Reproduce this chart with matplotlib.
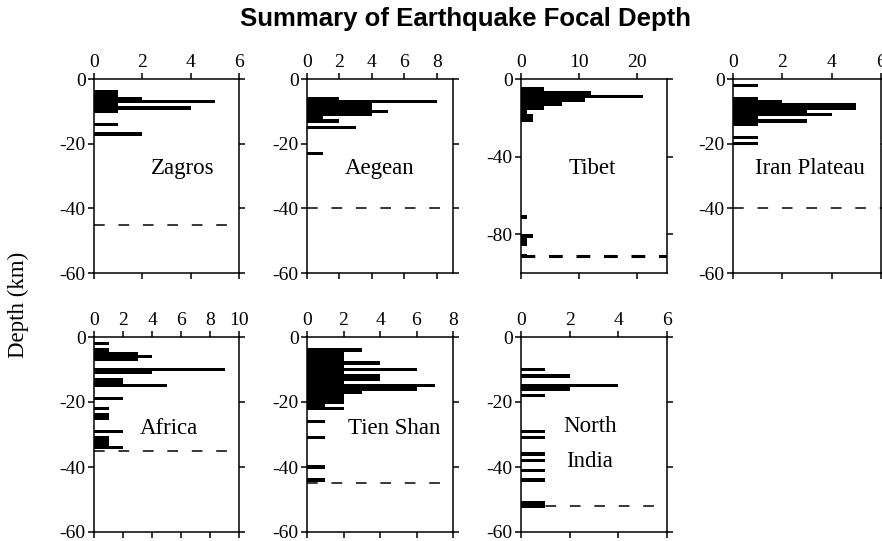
import matplotlib
matplotlib.use('Agg')
import matplotlib.pyplot as plt

plt.rcParams['font.family'] = ['Liberation Serif', 'DejaVu Serif']
plt.rcParams['axes.unicode_minus'] = False

# Focal depth histograms: depth bin centre (km) and number of events
zagros_depth = [4, 5, 6, 7, 8, 9, 10, 14, 17]
zagros_count = [1, 1, 2, 5, 1, 4, 1, 1, 2]

aegean_depth = [6, 7, 8, 9, 10, 11, 12, 13, 15, 23]
aegean_count = [2, 8, 4, 4, 5, 4, 1, 2, 3, 1]

# Tibet uses 2 km bins
tibet_depth = [5, 7, 9, 11, 13, 15, 17, 19, 21, 71, 81, 83, 85, 91]
tibet_count = [4, 12, 21, 11, 7, 4, 1, 2, 2, 1, 2, 1, 1, 1]

iran_depth = [2, 6, 7, 8, 9, 10, 11, 12, 13, 14, 18, 20]
iran_count = [1, 1, 2, 5, 5, 3, 4, 1, 3, 1, 1, 1]

africa_depth = [2, 4, 5, 6, 7, 10, 11, 13, 14, 15, 19, 22, 24, 25, 29, 31, 32, 33, 34]
africa_count = [1, 1, 3, 4, 3, 9, 4, 2, 2, 5, 2, 1, 1, 1, 2, 1, 1, 1, 2]

tienshan_depth = [4, 5, 6, 7, 8, 9, 10, 11, 12, 13, 14, 15, 16, 17, 18, 19, 20, 21, 22,
                  26, 31, 40, 44]
tienshan_count = [3, 2, 2, 2, 4, 2, 6, 2, 4, 4, 2, 7, 6, 3, 2, 2, 2, 1, 2,
                  1, 1, 1, 1]

nindia_depth = [10, 12, 15, 16, 18, 29, 31, 36, 38, 41, 44, 51, 52]
nindia_count = [1, 2, 4, 2, 1, 1, 1, 1, 1, 1, 1, 1, 1]

# Moho / reference depth (dashed lines)
moho = {'Zagros': -45, 'Aegean': -40, 'Tibet': -91, 'Iran Plateau': -40,
        'Africa': -35, 'Tien Shan': -45, 'North|India': -52}

W, H = 882, 541
fig = plt.figure(figsize=(W / 100, H / 100), dpi=100)


def make_axes(x0, x1, ytop, ybot):
    return fig.add_axes([x0 / W, 1 - ybot / H, (x1 - x0) / W, (ybot - ytop) / H])


def panel(ax, depth, count, binh, xmax, xticks, ymin, yticks, name, lx, ly, dash_lw=1.1):
    ax.barh([-d for d in depth], count, height=binh, color='black', linewidth=0)
    ax.set_xlim(0, xmax)
    ax.set_ylim(ymin, 0)
    ax.set_xticks(xticks)
    ax.set_yticks(yticks)
    ax.axhline(moho[name], color='black', lw=dash_lw, ls=(0, (7, 9)) if dash_lw < 1.5 else (0, (4.5, 4.5)))
    ax.tick_params(direction='out', length=4, width=1.1, top=True, right=True,
                   labeltop=True, labelbottom=False, labelsize=14, pad=2)
    for s in ax.spines.values():
        s.set_linewidth(1.1)
    # a '|' in the name splits the label over two lines
    for t, y in zip(name.split('|'), ly):
        ax.text(lx, y, t, transform=ax.transAxes, ha='center', va='center', fontsize=16.5)


top, bot = (79, 273), (337, 532)

ax = make_axes(94, 239, *top)
panel(ax, zagros_depth, zagros_count, 1, 6, [0, 2, 4, 6], -60, [0, -20, -40, -60],
      'Zagros', 0.61, [0.54])

ax = make_axes(307, 453, *top)
panel(ax, aegean_depth, aegean_count, 1, 9, [0, 2, 4, 6, 8], -60, [0, -20, -40, -60],
      'Aegean', 0.50, [0.54])

ax = make_axes(521, 667, *top)
panel(ax, tibet_depth, tibet_count, 2, 25.2, [0, 10, 20], -100, [0, -40, -80],
      'Tibet', 0.49, [0.54], dash_lw=2.2)

ax = make_axes(733, 881, *top)
panel(ax, iran_depth, iran_count, 1, 6, [0, 2, 4, 6], -60, [0, -20, -40, -60],
      'Iran Plateau', 0.52, [0.54])

ax = make_axes(94, 239, *bot)
panel(ax, africa_depth, africa_count, 1, 10, [0, 2, 4, 6, 8, 10], -60, [0, -20, -40, -60],
      'Africa', 0.52, [0.53])

ax = make_axes(307, 453, *bot)
panel(ax, tienshan_depth, tienshan_count, 1, 8, [0, 2, 4, 6, 8], -60, [0, -20, -40, -60],
      'Tien Shan', 0.60, [0.53])

ax = make_axes(521, 667, *bot)
panel(ax, nindia_depth, nindia_count, 1, 6, [0, 2, 4, 6], -60, [0, -20, -40, -60],
      'North|India', 0.47, [0.54, 0.36])

fig.text(18 / W, 1 - 305 / H, 'Depth (km)', rotation=90, ha='center', va='center', fontsize=16.5)
fig.text(466 / W, 1 - 19 / H, 'Summary of Earthquake Focal Depth', ha='center', va='center',
         fontsize=18.5, fontweight='bold', family='Liberation Sans')

fig.savefig('out.png', dpi=100)
